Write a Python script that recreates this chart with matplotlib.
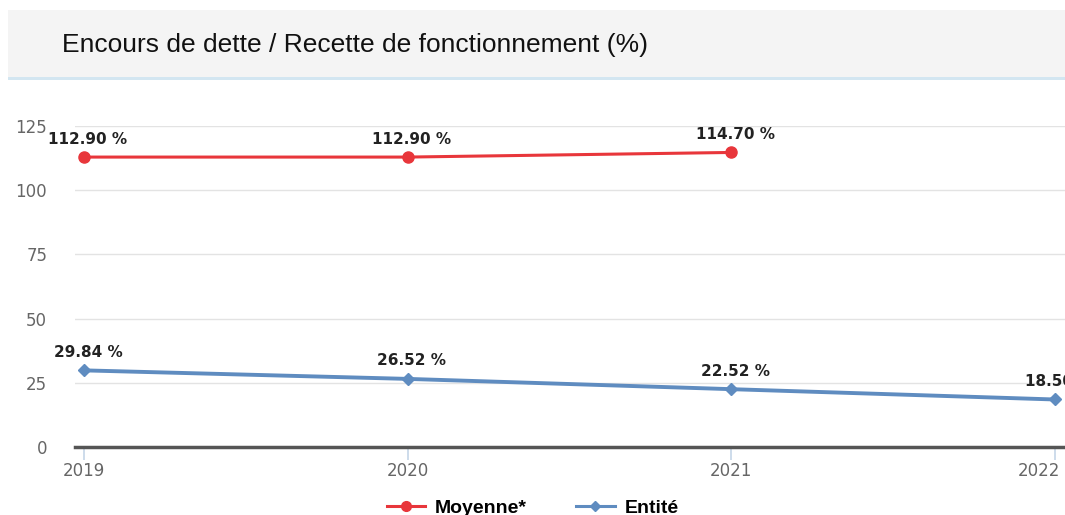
import matplotlib.pyplot as plt
from matplotlib.patches import Rectangle
from matplotlib.lines import Line2D
from matplotlib.transforms import ScaledTranslation

plt.rcParams['font.family'] = ['Liberation Sans', 'DejaVu Sans']

years = [2019, 2020, 2021, 2022]
moyenne = [112.90, 112.90, 114.70]
entite = [29.84, 26.52, 22.52, 18.50]
yticks = [0, 25, 50, 75, 100, 125]

red = '#e8363b'
blue = '#5f8cc0'

fig = plt.figure(figsize=(10.65, 5.15), dpi=100)

# title band
fig.patches.append(Rectangle((8 / 1065, 1 - 77 / 515), 1, 67 / 515, transform=fig.transFigure,
                             facecolor='#f4f4f4', edgecolor='none', zorder=0))
fig.patches.append(Rectangle((8 / 1065, 1 - 80 / 515), 1, 3 / 515, transform=fig.transFigure,
                             facecolor='#d3e6f1', edgecolor='none', zorder=0))
fig.text(62 / 1065, 1 - 45 / 515, 'Encours de dette / Recette de fonctionnement (%)',
         fontsize=19, color='#111111', va='center', ha='left')

ax = fig.add_axes([75 / 1065, 68 / 515, 990 / 1065, 321 / 515])
ax.set_xlim(2019 - 9 / 323.7, 2022 + 10 / 323.7)
ax.set_ylim(0, 125)

ax.plot(years[:3], moyenne, color=red, lw=2.2, marker='o', ms=8, zorder=3, clip_on=False)
ax.plot(years, entite, color=blue, lw=2.8, marker='D', ms=6.5, zorder=3, clip_on=False)

for x, v in zip(years[:3], moyenne):
    ax.annotate(f'{v:.2f} %', (x, v), xytext=(4, 18), textcoords='offset pixels',
                ha='center', va='center', fontsize=11, fontweight='bold',
                color='#222222', family='DejaVu Sans', annotation_clip=False)
for x, v in zip(years, entite):
    ax.annotate(f'{v:.2f} %', (x, v), xytext=(4, 18), textcoords='offset pixels',
                ha='center', va='center', fontsize=11, fontweight='bold',
                color='#222222', family='DejaVu Sans', annotation_clip=False)

ax.set_yticks(yticks)
ax.set_xticks(years)
ax.set_xticklabels([str(y) for y in years])
ax.grid(axis='y', color='#e3e3e3', lw=1)
ax.set_axisbelow(True)
for s in ['top', 'right', 'left']:
    ax.spines[s].set_visible(False)
ax.spines['bottom'].set_color('#555555')
ax.spines['bottom'].set_linewidth(2.5)
ax.tick_params(axis='y', length=0, pad=20, labelsize=12, labelcolor='#666666')
ax.tick_params(axis='x', length=9, width=1.2, color='#c5d5e8', pad=2,
               labelsize=12, labelcolor='#666666')
for lab in ax.get_xticklabels() + ax.get_yticklabels():
    lab.set_family('DejaVu Sans')
# last year label pushed inside, as the chart does
last = ax.get_xticklabels()[-1]
last.set_ha('right')
last.set_transform(last.get_transform() + ScaledTranslation(5 / 100, 0, fig.dpi_scale_trans))

handles = [Line2D([], [], color=red, lw=2.2, marker='o', ms=7),
           Line2D([], [], color=blue, lw=2.2, marker='D', ms=5)]
fig.legend(handles, ['Moyenne*', 'Entité'], loc='center', bbox_to_anchor=(0.5, 7 / 515),
           ncol=2, frameon=False, prop={'weight': 'bold', 'size': 14},
           handlelength=2, columnspacing=2.5, handletextpad=0.5)

fig.savefig('out.png', dpi=100)
